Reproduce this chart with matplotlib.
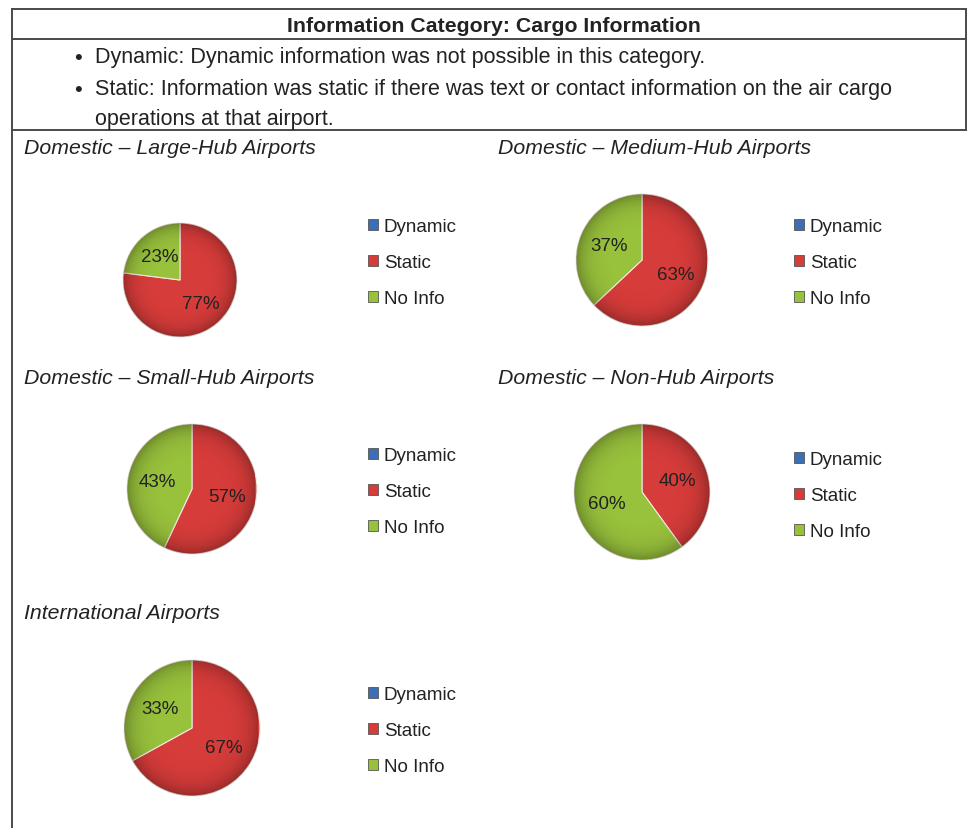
import matplotlib

matplotlib.use("Agg")
import matplotlib.pyplot as plt
import numpy as np
from matplotlib.lines import Line2D
from matplotlib.patches import Circle

plt.rcParams["font.family"] = ["Liberation Sans", "DejaVu Sans"]

W, H = 968, 829

# data
categories = ["Dynamic", "Static", "No Info"]
chart_titles = ["Domestic \u2013 Large-Hub Airports", "Domestic \u2013 Medium-Hub Airports",
                "Domestic \u2013 Small-Hub Airports", "Domestic \u2013 Non-Hub Airports",
                "International Airports"]
dynamic_pct = [0, 0, 0, 0, 0]
static_pct = [77, 63, 57, 40, 67]
noinfo_pct = [23, 37, 43, 60, 33]

header = "Information Category: Cargo Information"
bullet_lines = ["Dynamic: Dynamic information was not possible in this category.",
                "Static: Information was static if there was text or contact information on the air cargo",
                "operations at that airport."]

COLORS = ["#3d6fb6", "#d63c3a", "#98c13c"]
TEXT = "#222222"

# layout in pixels: pie centre x, centre y, radius, right clip; title pos; legend pos
PIES = [
    dict(cx=180, cy=281, r=57, clip=237, tx=24, ty=149, lx=368, ly=225),
    dict(cx=642, cy=261, r=66, clip=707, tx=498, ty=149, lx=794, ly=225),
    dict(cx=192, cy=490, r=65, clip=255, tx=24, ty=379, lx=368, ly=454),
    dict(cx=642, cy=493, r=68, clip=710, tx=498, ty=379, lx=794, ly=458),
    dict(cx=192, cy=729, r=68, clip=258, tx=24, ty=614, lx=368, ly=693),
]


def fx(x):
    return x / W


def fy(y):
    return 1 - y / H


fig = plt.figure(figsize=(W / 100, H / 100), dpi=100)

# table frame
frame = dict(color="#4a4a4a", linewidth=1.4, transform=fig.transFigure)
for y in (10, 40, 131):
    fig.add_artist(Line2D([fx(12), fx(966)], [fy(y), fy(y)], **frame))
fig.add_artist(Line2D([fx(12), fx(12)], [fy(10), fy(829)], **frame))
fig.add_artist(Line2D([fx(966), fx(966)], [fy(10), fy(131)], **frame))

fig.text(fx(494), fy(26), header, ha="center", va="center", fontsize=15.3,
         fontweight="bold", color=TEXT)
for y, line, bullet in zip((58, 90, 119), bullet_lines, (True, True, False)):
    if bullet:
        fig.text(fx(78), fy(y), "\u2022", ha="center", va="center", fontsize=16, color=TEXT)
    fig.text(fx(95), fy(y), line, ha="left", va="center", fontsize=15.5, color=TEXT)


def pct_label(p):
    return f"{p:.0f}%" if p >= 0.5 else ""


# radial shading to mimic the bevelled pies
grid = np.linspace(-1, 1, 200)
gx, gy = np.meshgrid(grid, grid)
rad = np.clip(np.hypot(gx, gy), 0, 1)
shade = np.zeros((200, 200, 4))
shade[..., 3] = 0.28 * rad ** 6

for i, spec in enumerate(PIES):
    vals = [dynamic_pct[i], static_pct[i], noinfo_pct[i]]
    r = spec["r"]
    left = spec["cx"] - 1.06 * r
    right = spec["clip"]
    top = spec["cy"] - 1.06 * r
    bottom = spec["cy"] + 1.06 * r
    ax = fig.add_axes([fx(left), fy(bottom), (right - left) / W, (bottom - top) / H])
    wedges, _, autotexts = ax.pie(
        vals, colors=COLORS, startangle=90, counterclock=False, radius=1,
        autopct=pct_label, pctdistance=0.55,
        wedgeprops=dict(edgecolor="#f0e8e0", linewidth=0.8),
        textprops=dict(fontsize=13.5, color=TEXT))
    img = ax.imshow(shade, extent=(-1, 1, -1, 1), zorder=1.5, interpolation="bilinear")
    img.set_clip_path(Circle((0, 0), 1, transform=ax.transData))
    for t in autotexts:
        t.set_zorder(3)
    ax.set_xlim(-1.06, (right - spec["cx"]) / r)
    ax.set_ylim(-1.06, 1.06)
    ax.set_aspect("auto")
    ax.axis("off")

    fig.text(fx(spec["tx"]), fy(spec["ty"]), chart_titles[i], ha="left", va="center",
             fontsize=15.3, style="italic", color=TEXT)

    leg = fig.legend(wedges, categories, loc="upper left",
                     bbox_to_anchor=(fx(spec["lx"]), fy(spec["ly"] - 6)),
                     bbox_transform=fig.transFigure, frameon=False, fontsize=13.5,
                     handlelength=0.55, handleheight=0.55, handletextpad=0.3,
                     labelspacing=1.02, borderaxespad=0, borderpad=0)
    for t in leg.get_texts():
        t.set_color(TEXT)
    for h in leg.legend_handles:
        h.set_edgecolor("#555555")
        h.set_linewidth(0.6)

fig.savefig("out.png", dpi=100)
